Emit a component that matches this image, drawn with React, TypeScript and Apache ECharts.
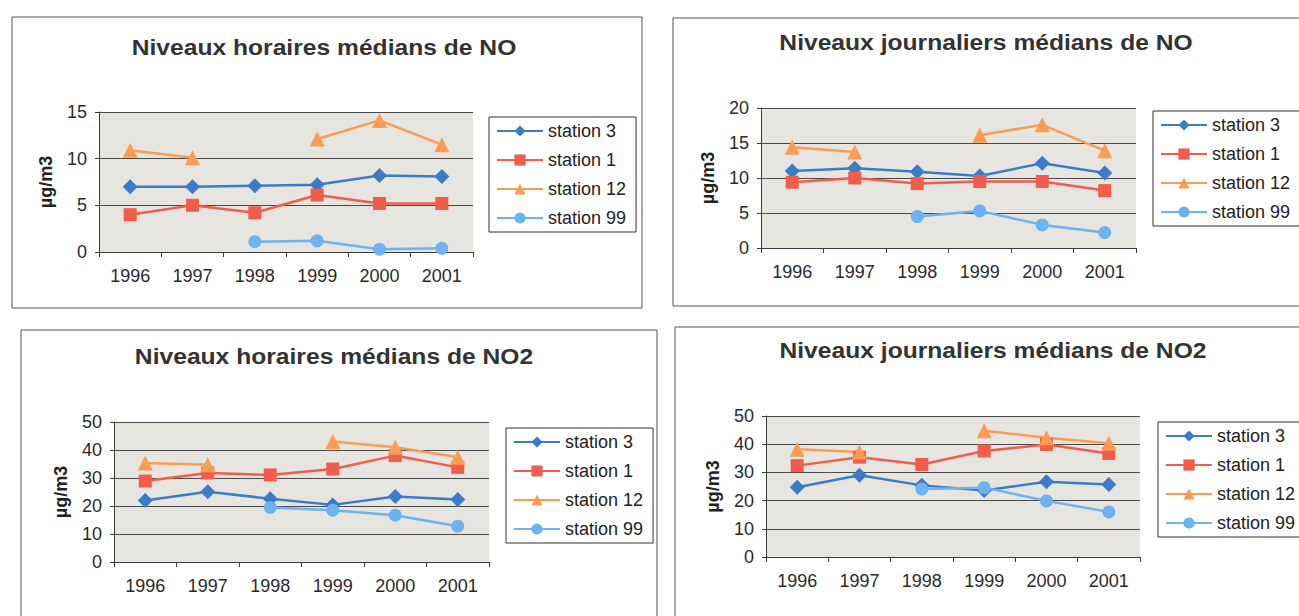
import { useEffect, useRef } from 'react';
import * as echarts from 'echarts';

// Categories and series names
const years = ['1996', '1997', '1998', '1999', '2000', '2001'];
const stationNames = ['station 3', 'station 1', 'station 12', 'station 99'];

// Niveaux horaires médians de NO (µg/m3)
const noHourlyStation3 = [7.0, 7.0, 7.1, 7.2, 8.2, 8.1];
const noHourlyStation1 = [4.0, 5.0, 4.2, 6.1, 5.2, 5.2];
const noHourlyStation12 = [10.9, 10.1, null, 12.1, 14.1, 11.5];
const noHourlyStation99 = [null, null, 1.1, 1.2, 0.3, 0.4];

// Niveaux journaliers médians de NO (µg/m3)
const noDailyStation3 = [11.0, 11.4, 10.9, 10.3, 12.1, 10.7];
const noDailyStation1 = [9.4, 10.0, 9.2, 9.5, 9.5, 8.2];
const noDailyStation12 = [14.4, 13.7, null, 16.1, 17.6, 13.9];
const noDailyStation99 = [null, null, 4.5, 5.3, 3.3, 2.2];

// Niveaux horaires médians de NO2 (µg/m3)
const no2HourlyStation3 = [22.0, 25.1, 22.6, 20.4, 23.4, 22.3];
const no2HourlyStation1 = [28.9, 31.8, 31.1, 33.2, 38.0, 33.8];
const no2HourlyStation12 = [35.4, 34.7, null, 43.0, 41.0, 37.4];
const no2HourlyStation99 = [null, null, 19.5, 18.5, 16.7, 12.8];

// Niveaux journaliers médians de NO2 (µg/m3)
const no2DailyStation3 = [24.7, 29.0, 25.4, 23.6, 26.7, 25.7];
const no2DailyStation1 = [32.4, 35.4, 32.8, 37.6, 39.9, 36.7];
const no2DailyStation12 = [38.2, 37.2, null, 44.8, 42.3, 40.3];
const no2DailyStation99 = [null, null, 24.1, 24.6, 19.9, 16.0];

// Chart titles and value axis ticks
const chartTitles = [
  'Niveaux horaires médians de NO',
  'Niveaux journaliers médians de NO',
  'Niveaux horaires médians de NO2',
  'Niveaux journaliers médians de NO2',
];
const yMaxValues = [15, 20, 50, 50];
const yIntervals = [5, 5, 10, 10];
const yAxisName = 'µg/m3';

const chartSeries = [
  [noHourlyStation3, noHourlyStation1, noHourlyStation12, noHourlyStation99],
  [noDailyStation3, noDailyStation1, noDailyStation12, noDailyStation99],
  [no2HourlyStation3, no2HourlyStation1, no2HourlyStation12, no2HourlyStation99],
  [no2DailyStation3, no2DailyStation1, no2DailyStation12, no2DailyStation99],
];

// Styling per station
const stationColors = ['#3b7bc8', '#f05d4a', '#fb9c55', '#6db3ef'];
const stationSymbols = ['diamond', 'rect', 'triangle', 'circle'];
const stationSymbolSizes = [15, 13, 15, 13];

// Layout of the four panels (pixels)
const panels = [
  { frame: [12, 17, 630, 291], titleX: 324, titleY: 47, grid: [99, 112, 374, 140], legend: [489, 117] },
  { frame: [673, 18, 640, 288], titleX: 986, titleY: 42, grid: [761, 108, 375, 140], legend: [1153, 111] },
  { frame: [21, 330, 636, 300], titleX: 334, titleY: 356, grid: [114, 422, 375, 140], legend: [506, 428] },
  { frame: [675, 327, 640, 300], titleX: 993, titleY: 350, grid: [766, 416, 374, 141], legend: [1158, 422] },
];

const FONT = '"Liberation Sans", Arial, sans-serif';

export default function App() {
  const ref = useRef<HTMLDivElement>(null);

  useEffect(() => {
    if (!ref.current) return;
    const chart = echarts.init(ref.current, null, { renderer: 'svg' });

    const grid = panels.map((p) => ({
      left: p.grid[0],
      top: p.grid[1],
      width: p.grid[2],
      height: p.grid[3],
      show: true,
      backgroundColor: '#e7e5df',
      borderWidth: 0,
    }));

    const xAxis = panels.map((_, i) => ({
      type: 'category',
      gridIndex: i,
      data: years,
      boundaryGap: true,
      axisLine: { show: true, lineStyle: { color: '#3a3a3a', width: 1 } },
      axisTick: { show: true, length: 5, lineStyle: { color: '#3a3a3a' } },
      axisLabel: { color: '#2a2a2a', fontSize: 18, fontFamily: FONT, margin: 15 },
      splitLine: { show: false },
    }));

    const yAxis = panels.map((_, i) => ({
      type: 'value',
      gridIndex: i,
      min: 0,
      max: yMaxValues[i],
      interval: yIntervals[i],
      axisLine: { show: true, lineStyle: { color: '#3a3a3a', width: 1 } },
      axisTick: { show: true, length: 4, lineStyle: { color: '#3a3a3a' } },
      axisLabel: { color: '#2a2a2a', fontSize: 18, fontFamily: FONT, margin: 12 },
      splitLine: { show: true, lineStyle: { color: '#4a4a4a', width: 1 } },
      name: yAxisName,
      nameLocation: 'middle',
      nameRotate: 90,
      nameGap: 44,
      nameTextStyle: { fontWeight: 'bold', fontSize: 18, color: '#222', fontFamily: FONT },
    }));

    const series: any[] = [];
    chartSeries.forEach((group, i) => {
      group.forEach((values, j) => {
        series.push({
          type: 'line',
          name: stationNames[j],
          xAxisIndex: i,
          yAxisIndex: i,
          data: values,
          symbol: stationSymbols[j],
          symbolSize: stationSymbolSizes[j],
          connectNulls: false,
          color: stationColors[j],
          itemStyle: { color: stationColors[j] },
          lineStyle: { width: 2.5, color: stationColors[j] },
        });
      });
    });

    const legend = panels.map((p) => ({
      orient: 'vertical',
      left: p.legend[0],
      top: p.legend[1],
      data: stationNames,
      selectedMode: false,
      itemWidth: 46,
      itemHeight: 14,
      itemGap: 9,
      padding: [4, 10, 4, 7],
      borderColor: '#333',
      borderWidth: 1,
      backgroundColor: '#ffffff',
      textStyle: { fontSize: 18, color: '#222', fontFamily: FONT, lineHeight: 20 },
    }));

    const frames = panels.map((p) => ({
      type: 'rect',
      silent: true,
      z: 0,
      shape: { x: p.frame[0], y: p.frame[1], width: p.frame[2], height: p.frame[3] },
      style: { fill: 'transparent', stroke: '#555', lineWidth: 1 },
    }));

    const titles = panels.map((p, i) => ({
      type: 'text',
      silent: true,
      x: p.titleX,
      y: p.titleY,
      scaleX: 1.12,
      style: {
        text: chartTitles[i],
        font: `bold 22px ${FONT}`,
        fill: '#333',
        align: 'center',
        verticalAlign: 'middle',
        textAlign: 'center',
        textVerticalAlign: 'middle',
      },
    }));

    chart.setOption({
      animation: false,
      backgroundColor: '#ffffff',
      textStyle: { fontFamily: FONT },
      grid,
      xAxis,
      yAxis,
      legend,
      series,
      graphic: [...frames, ...titles],
    });

    return () => chart.dispose();
  }, []);

  return (
    <div
      ref={ref}
      style={{ position: 'absolute', left: 0, top: 0, width: 1299, height: 616, background: '#fff' }}
    />
  );
}
